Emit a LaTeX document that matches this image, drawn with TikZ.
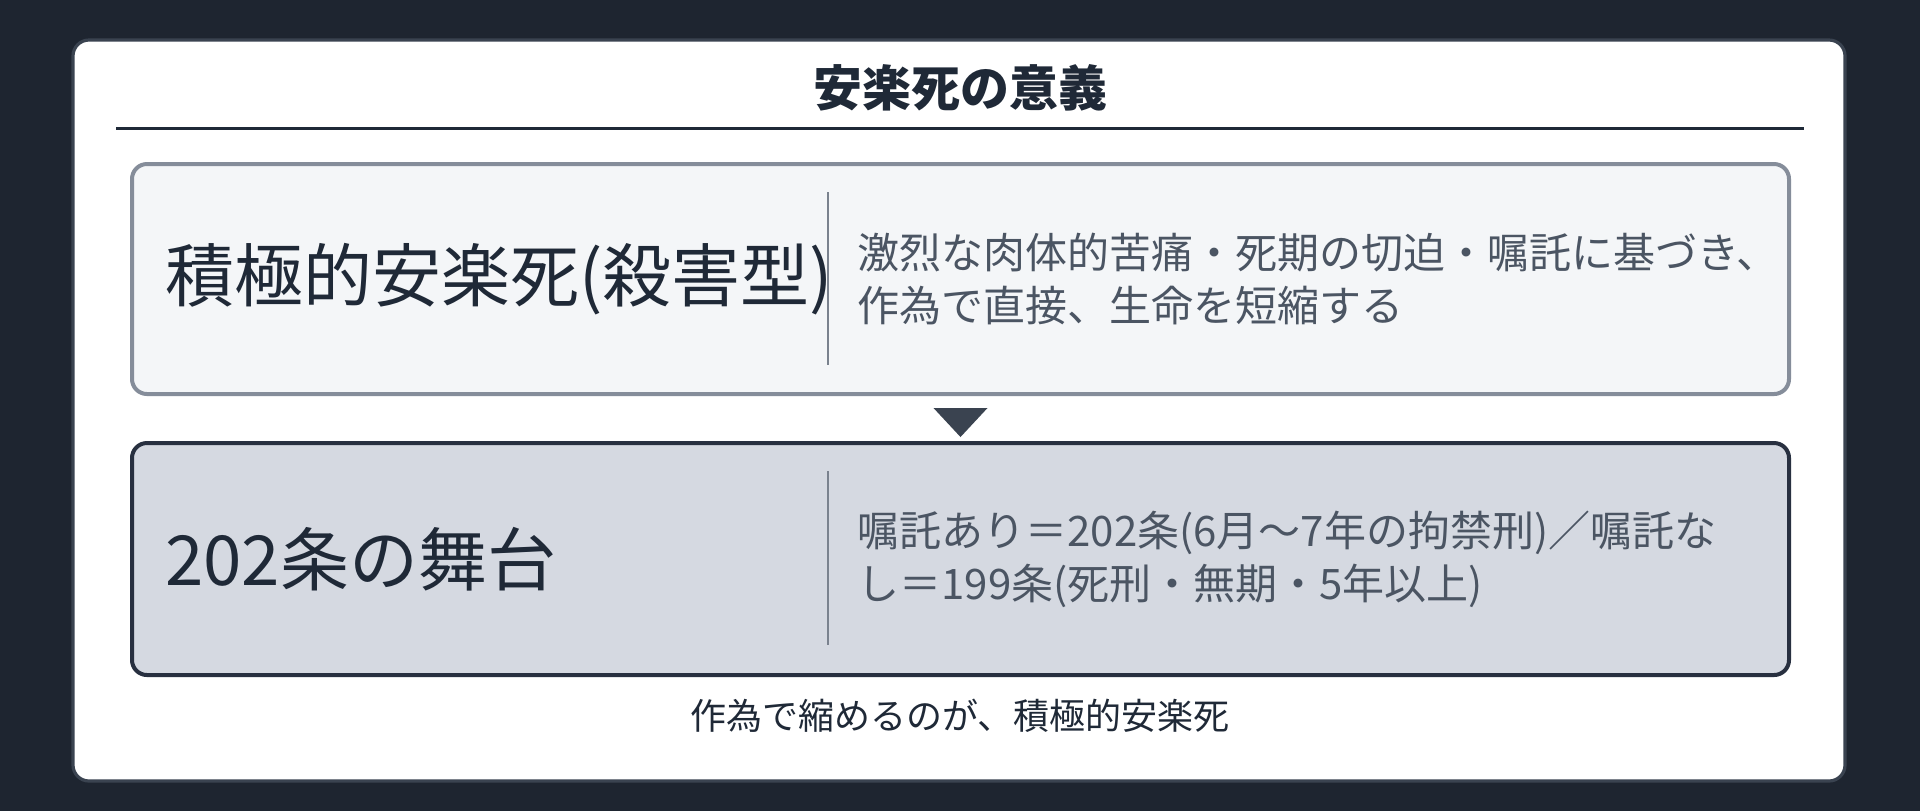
\documentclass[tikz,border=0pt]{standalone}
\usepackage{fontspec}
\setmainfont{Noto Sans CJK JP}
\usepackage{xcolor}
\usetikzlibrary{positioning, calc}

\definecolor{bgdark}{HTML}{1E2530}
\definecolor{cardline}{HTML}{3A4350}
\definecolor{inkdark}{HTML}{1F2937}
\definecolor{inkgray}{HTML}{4B5563}
\definecolor{upfill}{HTML}{F4F6F8}
\definecolor{upline}{HTML}{858D9A}
\definecolor{lowfill}{HTML}{D5D9E1}
\definecolor{lowline}{HTML}{283040}
\definecolor{divgray}{HTML}{7A828E}

\tikzset{
    panel/.style={rounded corners=7.5pt, line width=2pt, inner sep=0pt,
        minimum width=828.5pt, minimum height=115pt},
    bigtext/.style={anchor=west, inner sep=0pt, text=inkdark,
        font=\fontsize{34.5pt}{41pt}\selectfont},
    desctext/.style={anchor=west, inner sep=0pt, text=inkgray, align=left,
        font=\fontsize{21pt}{26.5pt}\selectfont},
    divider/.style={draw=divgray, line width=1.2pt}
}

\begin{document}
\begin{tikzpicture}[x=0.5pt, y=-0.5pt]
    % Background and card
    \fill[bgdark] (0, 0) rectangle (1920, 811);
    \useasboundingbox (0, 0) rectangle (1920, 811);
    \draw[cardline, fill=white, line width=1.6pt, rounded corners=8pt]
        (73, 40) rectangle (1845, 781);

    % Title
    \node[font=\fontsize{24.5pt}{30pt}\selectfont\bfseries, text=inkdark, inner sep=0pt]
        (title) at (960, 88) {安楽死の意義};
    \draw[inkdark, line width=1.1pt] (116, 128.5) -- (1804, 128.5);

    % Upper panel
    \node[panel, draw=upline, fill=upfill] (active) at (960.5, 279) {};
    \draw[divider] (828, 192) -- (828, 365);
    \node[bigtext] (activename) at (165, 279) {積極的安楽死(殺害型)};
    \node[desctext] (activedesc) at (857, 279)
        {激烈な肉体的苦痛・死期の切迫・嘱託に基づき、\\作為で直接、生命を短縮する};

    % Arrow
    \fill[cardline] ($(active.south)+(-27, 12)$) -- ($(active.south)+(27, 12)$)
        -- ($(active.south)+(0, 41)$) -- cycle;

    % Lower panel
    \node[panel, draw=lowline, fill=lowfill, minimum height=116pt] (stage) at (960.5, 559) {};
    \draw[divider] (828, 471) -- (828, 645);
    \node[bigtext] (stagename) at (165, 559) {202条の舞台};
    \node[desctext] (stagedesc) at (857, 559)
        {嘱託あり＝202条(6月～7年の拘禁刑)／嘱託な\\し＝199条(死刑・無期・5年以上)};

    % Caption
    \node[font=\fontsize{18pt}{22pt}\selectfont, text=inkdark, inner sep=0pt]
        (caption) at (960, 716) {作為で縮めるのが、積極的安楽死};
\end{tikzpicture}
\end{document}
